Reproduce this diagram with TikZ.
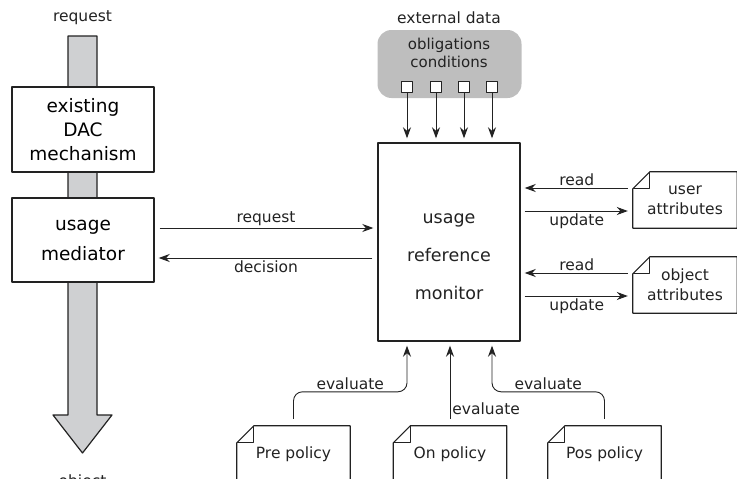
\documentclass[tikz,border=0pt]{standalone}
\usepackage{fontspec}
\setmainfont{DejaVu Sans}
\usetikzlibrary{arrows.meta}
\definecolor{ink}{HTML}{222222}
\definecolor{flowgray}{HTML}{CFD0D2}
\definecolor{extgray}{HTML}{BEBEBE}
\def\fold{17pt}
\newcommand{\docframe}[1]{%
\draw[docline] ([yshift=-\fold]#1.north west) -- ([xshift=\fold]#1.north west) -- (#1.north east) -- (#1.south east) -- (#1.south west) -- cycle;
\draw[docline] ([yshift=-\fold]#1.north west) -| ([xshift=\fold]#1.north west);}
\begin{document}
\begin{tikzpicture}[x=1pt, y=-1pt, line join=round, >={Stealth[length=11pt,width=8pt]},
  box/.style={draw=ink, line width=1.4pt, fill=white, minimum width=142pt, align=center, inner sep=0pt, font=\fontsize{18.5}{24}\selectfont},
  lbl/.style={text=ink, inner sep=2pt, font=\fontsize{15.5}{18}\selectfont},
  conn/.style={draw=ink, line width=0.9pt, ->, shorten >=4pt, shorten <=5pt},
  doc/.style={minimum width=104pt, minimum height=56pt, inner sep=0pt, align=center, text=ink, font=\fontsize{15.5}{20}\selectfont},
  docline/.style={draw=ink, line width=1.2pt},
  port/.style={draw=ink, line width=1.2pt, fill=white, minimum size=11pt, inner sep=0pt}]
\useasboundingbox (0,0) rectangle (737,479);
\clip (0,0) rectangle (737,479);
% flow of the request
\draw[ink, line width=1.2pt, fill=flowgray] (68,36) -- (97,36) -- (97,415) -- (112,415) -- (82.5,453) -- (53,415) -- (68,415) -- cycle;
\node[lbl] (reqtop) at (82.5,18) {request};
\node[lbl] (objbot) at (82.5,482) {object};
\node[box, minimum height=85pt] (dac) at (83,129.5) {existing\\DAC\\mechanism};
\node[box, minimum height=84pt, font=\fontsize{18.5}{30}\selectfont] (med) at (83,240) {usage\\mediator};
% monitor
\node[box, minimum height=198pt] (urm) at (449,242) {};
\node[text=ink, align=center, font=\fontsize{17.5}{38}\selectfont] (urmtext) at (449,257) {usage\\reference\\monitor};
\draw[conn] ([yshift=12pt]med.east) -- ([yshift=12pt]med.east -| urm.west) node[lbl, midway, above] {request};
\draw[conn] ([yshift=-16pt]urm.west) -- ([yshift=-16pt]urm.west -| med.east) node[lbl, midway, below] {decision};
% external data
\node[lbl] (exttitle) at (449,18) {external data};
\node[fill=extgray, rounded corners=14pt, minimum width=144pt, minimum height=68pt] (ext) at (449.5,64) {};
\node[text=ink, align=center, font=\fontsize{15}{18}\selectfont] (exttext) at (449,53) {obligations\\conditions};
\foreach \i/\x in {1/407,2/436,3/464,4/492} {
  \node[port] (p\i) at (\x,87) {};
  \draw[conn, shorten <=0pt] (p\i) -- (p\i |- urm.north);
}
% attributes
\node[doc] (ua) at (685,200) {user\\attributes};
\node[doc] (oa) at (685,285) {object\\attributes};
\docframe{ua}
\docframe{oa}
\foreach \d in {ua,oa} {
  \draw[conn] ([yshift=12pt]\d.west) -- ([yshift=12pt]\d.west -| urm.east) node[lbl, midway, above] {read};
  \draw[conn, shorten <=4pt, shorten >=5pt] ([yshift=-11pt]\d.west -| urm.east) -- ([yshift=-11pt]\d.west) node[lbl, midway, below] {update};
}
% policies
\node[doc, minimum width=113pt] (pre) at (293.5,454) {Pre policy};
\node[doc, minimum width=113pt] (on) at (450,454) {On policy};
\node[doc, minimum width=113pt] (pos) at (604.5,454) {Pos policy};
\docframe{pre}
\docframe{on}
\docframe{pos}
\draw[conn, shorten <=7pt, rounded corners=9pt] (pre.north) -- ++(0,-34) -| node[lbl, pos=0.25, above] {evaluate} ([xshift=-42pt]urm.south);
\draw[conn, shorten <=7pt] (on.north) -- (on.north |- urm.south) node[lbl, pos=0.2, right] {evaluate};
\draw[conn, shorten <=7pt, rounded corners=9pt] (pos.north) -- ++(0,-34) -| node[lbl, pos=0.25, above] {evaluate} ([xshift=43pt]urm.south);
\end{tikzpicture}
\end{document}
